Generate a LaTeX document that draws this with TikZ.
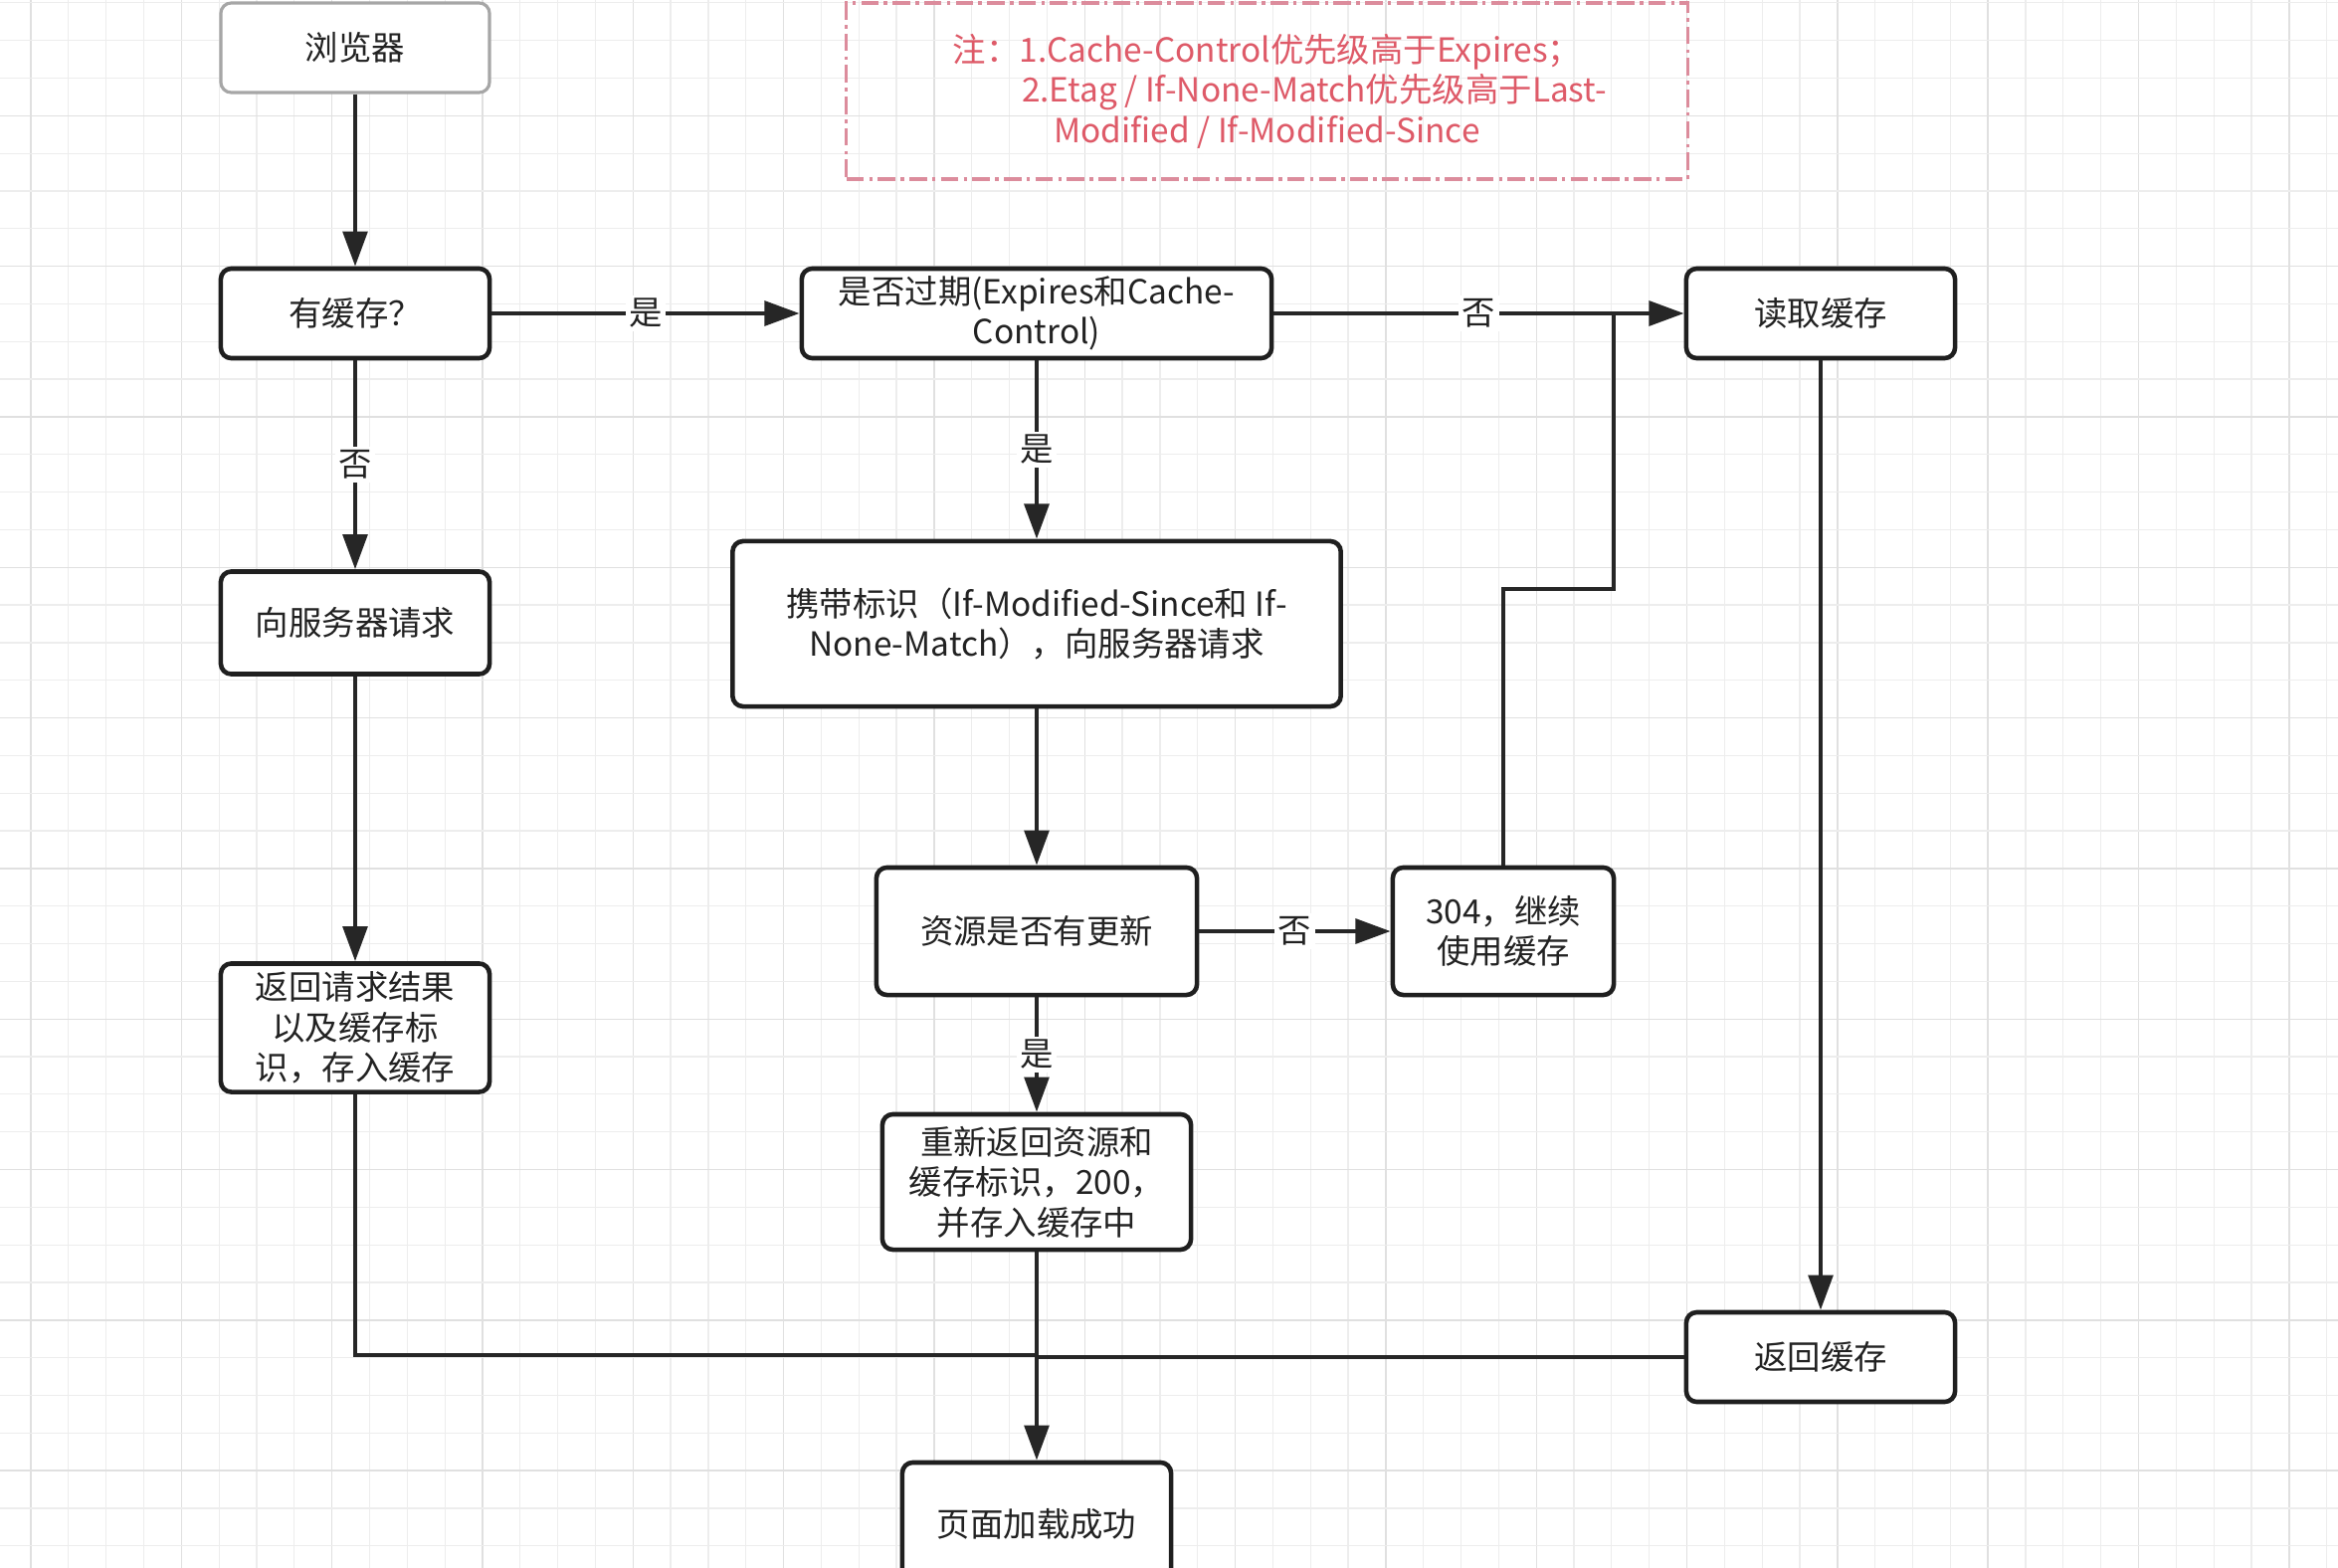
\documentclass[tikz,border=0pt]{standalone}
\usepackage{fontspec}
\setmainfont{Noto Sans CJK SC}
\usetikzlibrary{arrows.meta}

\definecolor{inkgray}{HTML}{222222}
\definecolor{gridminor}{HTML}{EDEDED}
\definecolor{gridmajor}{HTML}{E0E0E0}
\definecolor{notered}{HTML}{DE5A68}
\definecolor{noteedge}{HTML}{DC8C9C}

\begin{document}
\begin{tikzpicture}[x=0.01cm, y=-0.01cm,
  font=\fontsize{9.5}{11.5}\selectfont, text=inkgray,
  stepbox/.style={draw=black!88, line width=1.3pt, rounded corners=3pt,
    fill=white, align=center, inner sep=2pt},
  startbox/.style={stepbox, draw=gray!70, line width=0.9pt},
  notebox/.style={draw=noteedge, line width=0.9pt,
    dash pattern=on 5pt off 1.5pt on 1pt off 1.5pt, align=center, text=notered},
  flow/.style={draw=black!85, line width=1.2pt, -{Triangle[length=10pt,width=7pt]}},
  link/.style={draw=black!85, line width=1.2pt},
  yesno/.style={fill=white, inner sep=1pt}]
  %% ── Page and grid ───────────────────────────────────────────
  \clip (0,0) rectangle (2350,1576);
  \fill[white] (0,0) rectangle (2350,1576);
  \foreach \i in {-1,...,61}{
    \pgfmathtruncatemacro\m{mod(\i+4,4)}
    \ifnum\m=0
      \draw[gridmajor, line width=0.4pt] ({31+\i*37.83},0) -- ++(0,1576);
    \else
      \draw[gridminor, line width=0.35pt] ({31+\i*37.83},0) -- ++(0,1576);
    \fi
  }
  \foreach \j in {-4,...,39}{
    \pgfmathtruncatemacro\m{mod(\j+8,4)}
    \ifnum\m=0
      \draw[gridmajor, line width=0.4pt] (0,{116.3+\j*37.83}) -- ++(2350,0);
    \else
      \draw[gridminor, line width=0.35pt] (0,{116.3+\j*37.83}) -- ++(2350,0);
    \fi
  }
  %% ── Note ────────────────────────────────────────────────────
  \node[notebox, minimum width=8.45cm, minimum height=1.77cm] (note) at (1273.5,91.5)
    {注：1.Cache-Control优先级高于Expires；\\
     \hspace*{0.95cm}2.Etag / If-None-Match优先级高于Last-\\
     Modified / If-Modified-Since};
  %% ── Boxes ───────────────────────────────────────────────────
  \node[startbox, minimum width=2.7cm, minimum height=0.9cm] (browser) at (357,48) {浏览器};
  \node[stepbox, minimum width=2.7cm, minimum height=0.9cm] (hascache) at (357,315) {有缓存？};
  \node[stepbox, minimum width=4.72cm, minimum height=0.9cm] (expired) at (1042,315)
    {是否过期(Expires和Cache-\\Control)};
  \node[stepbox, minimum width=2.7cm, minimum height=0.9cm] (readcache) at (1830,315) {读取缓存};
  \node[stepbox, minimum width=2.7cm, minimum height=1.03cm] (request) at (357,626) {向服务器请求};
  \node[stepbox, minimum width=6.11cm, minimum height=1.66cm] (carry) at (1042,627)
    {携带标识（If-Modified-Since和 If-\\None-Match），向服务器请求};
  \node[stepbox, minimum width=3.22cm, minimum height=1.28cm] (updated) at (1042,936) {资源是否有更新};
  \node[stepbox, minimum width=2.22cm, minimum height=1.28cm] (notmod) at (1511,936) {304，继续\\使用缓存};
  \node[stepbox, minimum width=2.7cm, minimum height=1.29cm] (result) at (357,1033)
    {返回请求结果\\以及缓存标\\识，存入缓存};
  \node[stepbox, minimum width=3.1cm, minimum height=1.36cm] (resend) at (1042,1188)
    {重新返回资源和\\缓存标识，200，\\并存入缓存中};
  \node[stepbox, minimum width=2.7cm, minimum height=0.9cm] (returncache) at (1830,1364) {返回缓存};
  \node[stepbox, minimum width=2.7cm, minimum height=1.24cm] (success) at (1042,1532) {页面加载成功};
  %% ── Connectors ──────────────────────────────────────────────
  \draw[flow] (browser) -- (hascache);
  \draw[flow] (hascache) -- node[yesno] {是} (expired);
  \draw[flow] (hascache) -- node[yesno] {否} (request);
  \draw[flow] (expired) -- node[yesno] {否} (readcache);
  \draw[flow] (expired) -- node[yesno] {是} (carry);
  \draw[flow] (carry) -- (updated);
  \draw[flow] (updated) -- node[yesno] {否} (notmod);
  \draw[flow] (updated) -- node[yesno] {是} (resend);
  \draw[flow] (request) -- (result);
  \draw[flow] (readcache) -- (returncache);
  \draw[flow] (resend) -- (success);
  %% 304 joins the line into the cache read
  \coordinate (bend) at (1622,592);
  \draw[link] (notmod.north) |- (bend) -- (bend |- readcache.west);
  %% both returns meet above the last box
  \coordinate (merge) at (1042,1362);
  \draw[link] (result.south) |- (merge);
  \draw[link] (returncache.west) -- (returncache.west -| merge);
\end{tikzpicture}
\end{document}
